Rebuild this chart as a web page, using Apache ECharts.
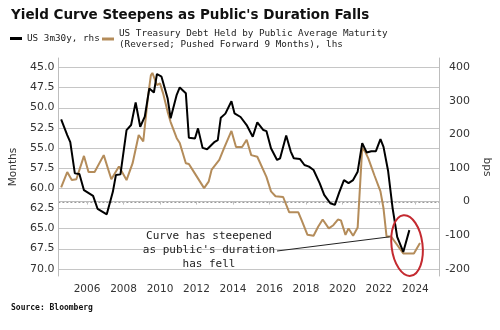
<!DOCTYPE html>
<html>
<head>
<meta charset="utf-8">
<script src="https://cdn.jsdelivr.net/npm/echarts@6/dist/echarts.min.js"></script>
<style>
  html, body { margin: 0; padding: 0; background: #fff; }
  #chart { width: 500px; height: 330px; }
</style>
</head>
<body>
<div id="chart"></div>
<script>
// US 3m30y curve spread, basis points (right axis)
const spreadDates = [
  '2004-08','2004-12','2005-02','2005-05','2005-08','2005-11','2006-05','2006-08',
  '2007-02','2007-06','2007-08','2007-11','2008-03','2008-06','2008-09','2008-12',
  '2009-03','2009-06','2009-09','2009-11','2010-02','2010-06','2010-08','2010-12',
  '2011-02','2011-06','2011-08','2011-12','2012-02','2012-05','2012-08','2013-01',
  '2013-03','2013-05','2013-08','2013-12','2014-02','2014-06','2014-10','2015-02',
  '2015-05','2015-09','2015-11','2016-02','2016-06','2016-08','2016-12','2017-03',
  '2017-05','2017-09','2017-12','2018-03','2018-06','2018-10','2019-01','2019-05',
  '2019-08','2019-11','2020-02','2020-05','2020-08','2020-11','2021-02','2021-05',
  '2021-08','2021-11','2022-02','2022-04','2022-07','2022-10','2023-01','2023-05',
  '2023-09'
];
const spreadBps = [
  245, 198, 177, 84, 82, 34, 17, -22,
  -38, 29, 79, 81, 213, 228, 295, 223,
  253, 337, 325, 380, 372, 308, 248, 318,
  340, 323, 190, 188, 218, 160, 156, 178,
  183, 250, 262, 299, 263, 252, 228, 193,
  236, 213, 210, 159, 124, 129, 197, 149,
  129, 127, 109, 104, 94, 55, 20, -5,
  -10, 29, 64, 55, 64, 89, 174, 146,
  150, 150, 186, 163, 92, -20, -105, -150,
  -85
];

// Average maturity of publicly held Treasury debt, months (left axis, reversed, shifted +9 months)
const maturityDates = [
  '2004-08','2004-12','2005-03','2005-06','2005-11','2006-02','2006-06','2006-12',
  '2007-05','2007-10','2008-03','2008-07','2008-11','2009-02','2009-05','2009-07',
  '2009-08','2009-11','2010-01','2010-03','2010-06','2010-08','2010-12','2011-02',
  '2011-06','2011-08','2011-12','2012-06','2012-09','2012-11','2013-04','2013-07',
  '2013-12','2014-03','2014-07','2014-10','2015-01','2015-05','2015-11','2016-02',
  '2016-05','2016-10','2017-02','2017-08','2017-10','2018-02','2018-06','2018-09',
  '2018-12','2019-04','2019-07','2019-10','2019-12','2020-03','2020-05','2020-08',
  '2020-11','2021-02','2021-04','2021-06','2021-10','2022-02','2022-04','2022-06',
  '2022-09','2023-05','2023-12','2024-04'
];
const maturityMonths = [
  59.9, 58.0, 59.0, 58.9, 56.0, 58.0, 58.0, 55.9,
  58.9, 57.3, 59.0, 56.9, 53.4, 54.2, 48.8, 46.0,
  45.7, 47.2, 47.0, 48.2, 50.5, 51.8, 53.8, 54.4,
  56.9, 57.0, 58.2, 60.0, 59.2, 57.7, 56.5, 55.1,
  52.9, 54.9, 54.9, 54.0, 55.9, 56.1, 58.6, 60.4,
  61.0, 61.1, 63.0, 63.0, 63.9, 65.8, 65.9, 64.8,
  63.9, 65.0, 64.6, 63.9, 64.0, 65.8, 65.0, 65.9,
  64.9, 55.0, 55.5, 56.3, 58.4, 60.4, 62.5, 66.0,
  66.0, 68.1, 68.1, 66.8
];

// Tick labels
const yearTicks = [2006, 2008, 2010, 2012, 2014, 2016, 2018, 2020, 2022, 2024];
const monthTicks = [45, 47.5, 50, 52.5, 55, 57.5, 60, 62.5, 65, 67.5, 70];
const bpsTicks = [-200, -100, 0, 100, 200, 300, 400];

const spreadName = 'US 3m30y, rhs';
const maturityName = 'US Treasury Debt Held by Public Average Maturity\n(Reversed; Pushed Forward 9 Months), lhs';

// 'YYYY-MM' -> fractional year
function toYear(s) {
  const [y, m] = s.split('-').map(Number);
  return y + (m - 1) / 12;
}

// axis extents (the plot frame runs a little past the outermost ticks)
const xMin = 2004.432, xMax = 2025.297;
const monthsTop = 43.846, monthsBottom = 70.906;
const bpsMin = -221.7, bpsMax = 427.7;

const axisColor = '#bdbdbd';
const labelColor = '#333';
const sansFont = 'DejaVu Sans';
const monoFont = 'DejaVu Sans Mono';

const chart = echarts.init(document.getElementById('chart'), null, { renderer: 'canvas' });

const legendText = { fontFamily: monoFont, fontSize: 9.3, lineHeight: 11, color: '#222' };

const option = {
  animation: false,
  backgroundColor: '#fff',
  title: {
    text: "Yield Curve Steepens as Public's Duration Falls",
    left: 6, top: 3,
    textStyle: { fontFamily: sansFont, fontWeight: 'bold', fontSize: 13.5, color: '#111' }
  },
  legend: [
    {
      left: 10, top: 33, padding: 0,
      icon: 'rect', itemWidth: 12, itemHeight: 3,
      selectedMode: false,
      textStyle: legendText,
      data: [{ name: spreadName, itemStyle: { color: '#000' } }]
    },
    {
      left: 102, top: 28, padding: 0,
      icon: 'rect', itemWidth: 12, itemHeight: 3,
      selectedMode: false,
      textStyle: legendText,
      data: [{ name: maturityName, itemStyle: { color: '#b48c5a' } }]
    }
  ],
  grid: { left: 54, right: 60, top: 58, bottom: 54, containLabel: false },
  xAxis: {
    type: 'value',
    min: xMin, max: xMax,
    axisLine: { show: true, lineStyle: { color: axisColor } },
    axisTick: { show: true, length: 3, customValues: yearTicks, lineStyle: { color: axisColor } },
    axisLabel: {
      customValues: yearTicks, margin: 8,
      fontFamily: sansFont, fontSize: 10.5, color: labelColor,
      formatter: v => String(Math.round(v))
    },
    splitLine: { show: false }
  },
  yAxis: [
    {
      type: 'value', position: 'left', inverse: true,
      min: monthsTop, max: monthsBottom,
      name: 'Months', nameLocation: 'middle', nameGap: 38, nameRotate: 90,
      nameTextStyle: { fontFamily: sansFont, fontSize: 10.5, color: labelColor },
      axisLine: { show: true, lineStyle: { color: axisColor } },
      axisTick: { show: false, customValues: monthTicks },
      axisLabel: {
        customValues: monthTicks, margin: 4,
        fontFamily: sansFont, fontSize: 11, color: labelColor,
        formatter: v => v.toFixed(1)
      },
      splitLine: { show: false }
    },
    {
      type: 'value', position: 'right',
      min: bpsMin, max: bpsMax,
      name: 'bps', nameLocation: 'middle', nameGap: 36, nameRotate: -90,
      nameTextStyle: { fontFamily: sansFont, fontSize: 10.5, color: labelColor },
      axisLine: { show: true, lineStyle: { color: axisColor } },
      axisTick: { show: false, customValues: bpsTicks },
      axisLabel: {
        customValues: bpsTicks, margin: 31, align: 'right',
        fontFamily: sansFont, fontSize: 11, color: labelColor
      },
      splitLine: { show: false }
    }
  ],
  series: [
    {
      name: maturityName,
      type: 'line',
      yAxisIndex: 0,
      data: maturityDates.map((d, i) => [toYear(d), maturityMonths[i]]),
      showSymbol: false,
      color: '#b48c5a',
      lineStyle: { color: '#b48c5a', width: 2 },
      z: 2
    },
    {
      name: spreadName,
      type: 'line',
      yAxisIndex: 1,
      data: spreadDates.map((d, i) => [toYear(d), spreadBps[i]]),
      showSymbol: false,
      color: '#000',
      lineStyle: { color: '#000', width: 2 },
      z: 3
    }
  ]
};

chart.setOption(option);

// Points through the chart's own scales: left axis (months) and right axis (bps)
const onMonths = (x, v) => chart.convertToPixel({ xAxisIndex: 0, yAxisIndex: 0 }, [x, v]);
const onBps = (x, v) => chart.convertToPixel({ xAxisIndex: 0, yAxisIndex: 1 }, [x, v]);

// Horizontal gridlines at the left-axis ticks
const gridLines = monthTicks.map(v => {
  const a = onMonths(xMin, v);
  const b = onMonths(xMax, v);
  const y = Math.round(a[1]) + 0.5;
  return {
    type: 'line', z: -1, silent: true,
    shape: { x1: a[0], y1: y, x2: b[0], y2: y },
    style: { stroke: '#c6c6c6', lineWidth: 1 }
  };
});

// Dotted zero line on the bps axis
const z0 = onBps(xMin, 0);
const z1 = onBps(xMax, 0);
const zeroY = Math.round(z0[1]) + 0.5;
const zeroLine = {
  type: 'line', z: -1, silent: true,
  shape: { x1: z0[0], y1: zeroY, x2: z1[0], y2: zeroY },
  style: { stroke: '#9a9a9a', lineWidth: 1, lineDash: [2, 2] }
};

// Annotation: ring around the 2023 trough and a pointer from the caption
const ringAnchor = [2023.54, -131];
const pointerAnchor = [2022.59, -105];
const ring = onBps(ringAnchor[0], ringAnchor[1]);
const tip = onBps(pointerAnchor[0], pointerAnchor[1]);

chart.setOption({
  graphic: [
    ...gridLines,
    zeroLine,
    {
      type: 'text', left: 11, top: 304,
      style: { text: 'Source: Bloomberg', font: 'bold 8px "DejaVu Sans Mono"', fill: '#111' }
    },
    {
      type: 'text', x: 209, y: 250,
      style: {
        text: "Curve has steepened\nas public's duration\nhas fell",
        font: '11px "DejaVu Sans Mono"', lineHeight: 14,
        align: 'center', verticalAlign: 'middle', fill: '#222'
      },
      z: 10
    },
    {
      type: 'line',
      shape: { x1: 277, y1: 251, x2: tip[0], y2: tip[1] },
      style: { stroke: '#222', lineWidth: 1 },
      z: 10
    },
    {
      type: 'ellipse',
      x: ring[0], y: ring[1], rotation: 0.12,
      shape: { cx: 0, cy: 0, rx: 15.5, ry: 30.5 },
      style: { fill: 'none', stroke: '#c42a30', lineWidth: 2 },
      z: 10
    }
  ]
});
</script>
</body>
</html>
